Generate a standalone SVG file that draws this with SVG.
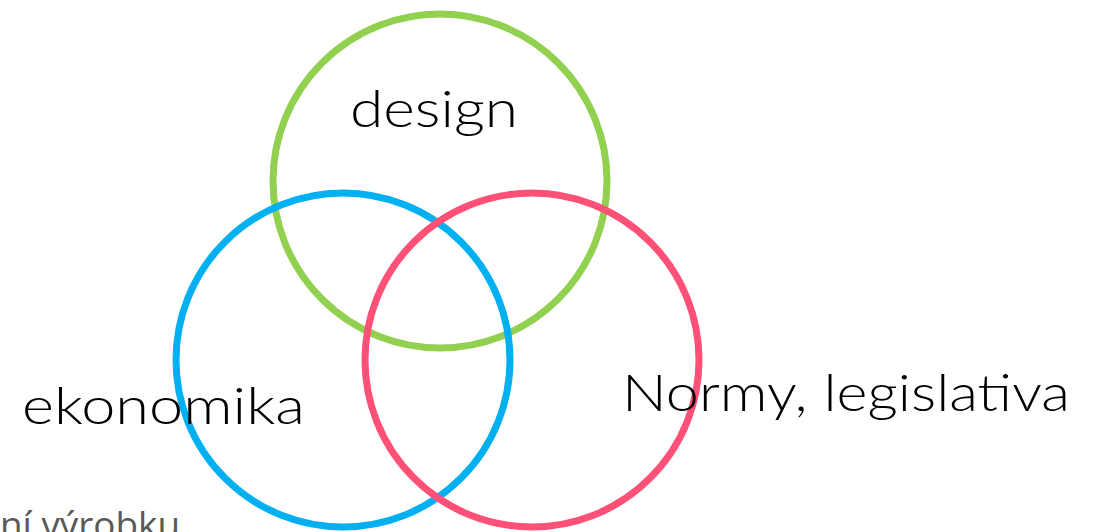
<svg xmlns="http://www.w3.org/2000/svg" width="1096" height="532" viewBox="0 0 1096 532">
<style>
.c{fill:none;stroke-width:7}
.t{font-family:Lato,"Liberation Sans",Arial,sans-serif;font-weight:300;fill:#000;font-size:52px}
</style>
<rect width="1096" height="532" fill="#fff"/>
<text x="0" y="538" font-family="'Open Sans','Liberation Sans',sans-serif" font-size="36" fill="#595959" textLength="180" lengthAdjust="spacingAndGlyphs">ní výrobku</text>
<g id="connectors"/>
<g id="design"><circle class="c" cx="440" cy="181" r="167" stroke="#92D050"/><text class="t" x="350" y="127" textLength="168" lengthAdjust="spacingAndGlyphs">design</text></g>
<g id="ekonomika"><circle class="c" cx="343" cy="360" r="167" stroke="#00B0F0"/></g>
<g id="normy"><circle class="c" cx="532" cy="360" r="167" stroke="#FF5078"/></g>
<text class="t" x="22" y="424" textLength="283" lengthAdjust="spacingAndGlyphs">ekonomika</text>
<text class="t" x="622" y="411" textLength="448" lengthAdjust="spacingAndGlyphs">Normy, legislativa</text>
</svg>
